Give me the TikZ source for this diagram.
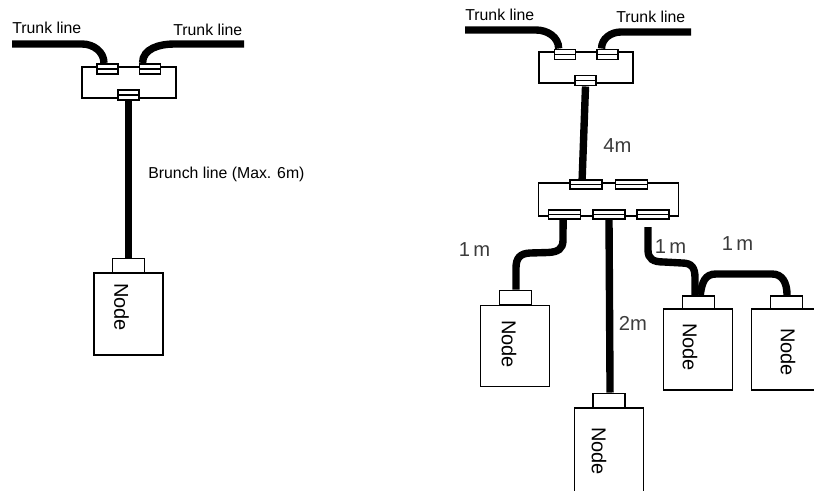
\documentclass[tikz,border=0pt]{standalone}
\usepackage{fontspec}
\setmainfont{Liberation Sans}
\usetikzlibrary{calc}
\definecolor{lenlabel}{RGB}{60, 60, 60}

\begin{document}
\begin{tikzpicture}[
          x=0.02cm, y=-0.02cm,
          cable/.style={line width=4.2pt, black},
          tapbox/.style={draw, line width=0.9pt, shape=rectangle, inner sep=0pt},
          hubbox/.style={tapbox, fill=white},
          plugbox/.style={tapbox, fill=white, path picture={\draw[line width=0.9pt] (path picture bounding box.west) -- (path picture bounding box.east);}},
          plugA/.style={plugbox, minimum width=12pt, minimum height=5.9pt},
          plugB/.style={plugbox, minimum width=18pt, minimum height=5.1pt},
          portbox/.style={tapbox, fill=white, minimum width=18.4pt, minimum height=8.2pt},
          nodebox/.style={tapbox, fill=white, minimum width=39.4pt, minimum height=46pt},
          nodetext/.style={rotate=-90, font=\fontsize{11.4}{12}\selectfont},
          linetext/.style={font=\fontsize{9}{10}\selectfont, inner sep=0pt},
          lentext/.style={font=\fontsize{11.5}{12}\selectfont, text=lenlabel, inner sep=0pt}
        ]
          \useasboundingbox (0,0) rectangle (814,490);

          % left drop
          \node[hubbox, minimum width=53.3pt, minimum height=17.6pt] (hubL) at (129,82.5) {};
          \node[plugA] (tapL1) at (107.5,69) {};
          \node[plugA] (tapL2) at (150,69) {};
          \node[plugA] (tapL3) at (128.5,95) {};
          \node[portbox] (portL) at (128.5,265.5) {};
          \node[nodebox, minimum height=46.5pt] (nodeL) at (128.5,314) {};
          \node[nodetext] (textL) at (121.5,307) {Node};
          \coordinate (endL1) at (12,44);
          \coordinate (endL2) at (244,44);
          \draw[cable] (endL1) -- (82,44) to[out=0, in=90] ([xshift=-2pt]tapL1.north);
          \draw[cable] (endL2) -- (174,44) to[out=180, in=90] ([xshift=2.2pt]tapL2.west |- tapL2.north);
          \draw[cable] (tapL3.south) -- (portL.north);
          \node[linetext, anchor=west] (trunkL1) at (12,28) {Trunk line};
          \node[linetext, anchor=west] (trunkL2) at (173,30) {Trunk line};
          \node[linetext, anchor=west] (brunch) at (148,174) {Brunch line (Max. 6m)};

          % right drop, upper hub
          \node[hubbox, minimum width=53.3pt, minimum height=17.6pt] (hubT) at (586,67.5) {};
          \node[plugA] (tapT1) at (565,54.5) {};
          \node[plugA] (tapT2) at (607.5,54.5) {};
          \node[plugA] (tapT3) at (585.5,80.5) {};
          \coordinate (endT1) at (465,30);
          \coordinate (endT2) at (691,32);
          \draw[cable] (endT1) -- (536,30) to[out=0, in=90] ([xshift=-3.6pt]tapT1.north);
          \draw[cable] (endT2) -- (621,32) to[out=180, in=90] ([xshift=-3.4pt]tapT2.north);
          \node[linetext, anchor=west] (trunkT1) at (465,15) {Trunk line};
          \node[linetext, anchor=west] (trunkT2) at (616,17) {Trunk line};

          % right drop, lower hub
          \node[hubbox, minimum width=79.9pt, minimum height=18.7pt] (hubB) at (608.5,199.5) {};
          \node[plugB] (tapB1) at (586,184.5) {};
          \node[plugB] (tapB2) at (631.5,184.5) {};
          \node[plugB] (tapB3) at (564.5,214.5) {};
          \node[plugB] (tapB4) at (609,214.5) {};
          \node[plugB] (tapB5) at (653,214.5) {};
          \draw[cable] (tapT3.south) -- ([xshift=-2.2pt]tapB1.north);
          \node[lentext] (lenA) at (617.5,146) {4m};

          % right drop, nodes
          \node[portbox] (portA) at (515.5,297.5) {};
          \node[nodebox] (nodeA) at (515,346) {};
          \node[nodetext] (textA) at (509,344) {Node};
          \node[portbox] (portB) at (609,400.5) {};
          \node[nodebox, minimum height=57pt] (nodeB) at (609,458) {};
          \node[nodetext] (textB) at (599,451) {Node};
          \node[portbox] (portC) at (698.5,303) {};
          \node[nodebox] (nodeC) at (698,349.5) {};
          \node[nodetext] (textC) at (690,347) {Node};
          \node[portbox] (portD) at (786.5,303) {};
          \node[nodebox] (nodeD) at (786,349.5) {};
          \node[nodetext] (textD) at (788,352) {Node};

          \coordinate (endC) at (648,227);
          \draw[cable] ([xshift=-0.8pt]tapB3.south) -- (563,240) .. controls (563,249) and (558,252) .. (548,252.5) -- (530,253) .. controls (520,253.5) and (516,258) .. (516,268) -- ([xshift=0.3pt]portA.north);
          \draw[cable] (tapB4.south) -- ([xshift=0.6pt]portB.north);
          \draw[cable] (endC) -- (648,250) .. controls (648,259) and (653,262) .. (664,262) -- (682,263) .. controls (692,263) and (695,268) .. (695,278) -- ([xshift=-2pt]portC.north);
          \draw[cable] ([xshift=1pt]portC.north) .. controls (702,282) and (705,274) .. (716,274) -- (772,274) .. controls (782,274) and (787,282) .. ([xshift=0.3pt]portD.north);

          \node[lentext] (lenB) at (474.5,250) {1\,m};
          \node[lentext] (lenC) at (633,323) {2m};
          \node[lentext] (lenD) at (670.5,247) {1\,m};
          \node[lentext] (lenE) at (737.5,244) {1\,m};
        \end{tikzpicture}
\end{document}
